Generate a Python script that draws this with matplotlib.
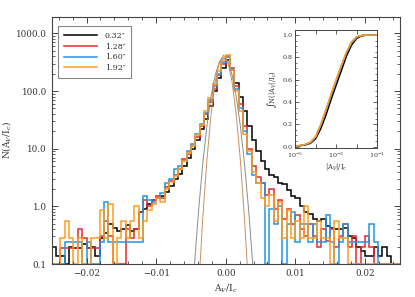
import numpy as np
import matplotlib
matplotlib.use("Agg")
import matplotlib.pyplot as plt
from matplotlib.ticker import MultipleLocator, LogLocator, NullFormatter, FixedLocator

plt.rcParams['font.family'] = ['DejaVu Serif']
plt.rcParams['mathtext.fontset'] = 'dejavuserif'

# histogram bins of A_V/I_c
edges = np.linspace(-0.025, 0.025, 81)

labels = ["0.32\u2033", "1.28\u2033", "1.60\u2033", "1.92\u2033"]
colors = ["#000000", "#e8282c", "#2196e6", "#ff9d1e"]

n_032 = [0.2, 0.14, 0.14, 0.0, 0.2, 0.19, 0.19, 0.22, 0.19, 0.2, 0.14, 0.28,
         0.35, 0.5, 0.42, 0.38, 0.4, 0.47, 0.38, 0.4, 0.8, 0.9, 1.1, 1.3,
         1.4, 1.5, 1.8, 2.3, 3.0, 3.6, 5.0, 7.0, 10, 14, 22, 33,
         55, 100, 170, 250, 350, 230, 140, 80, 45, 25, 14, 9,
         6.0, 4.5, 3.5, 3.2, 2.5, 2.4, 1.9, 1.5, 1.4, 1.0, 0.8, 0.75,
         0.6, 0.55, 0.6, 0.45, 0.42, 0.4, 0.4, 0.42, 0.3, 0.28, 0.2, 0.17,
         0.14, 0.14, 0.2, 0.14, 0.2, 0.14, 0.0, 0.0]
n_128 = [0.0, 0.0, 0.19, 0.19, 0.19, 0.19, 0.4, 0.28, 0.19, 0.19, 0.19, 0.3,
         0.55, 0.3, 0.0, 0.0, 0.1, 0.4, 0.28, 0.4, 0.8, 1.3, 1.0, 1.3,
         1.5, 1.4, 2.2, 2.8, 3.5, 4.5, 6.5, 8.0, 11, 16, 25, 40,
         65, 110, 190, 300, 400, 250, 120, 60, 25, 10, 5.0, 3.2,
         2.5, 1.6, 2.0, 0.9, 1.3, 0.6, 0.9, 0.5, 0.7, 0.4, 0.3, 0.5,
         0.3, 0.2, 0.4, 0.25, 0.4, 0.2, 0.3, 0.5, 0.2, 0.3, 0.1, 0.2,
         0.3, 0.2, 0.1, 0.0, 0.0, 0.0, 0.0, 0.0]
n_160 = [0.0, 0.0, 0.0, 0.24, 0.24, 0.24, 0.24, 0.0, 0.24, 0.0, 0.0, 0.24,
         1.2, 0.24, 0.24, 0.24, 0.24, 0.24, 0.24, 0.24, 0.24, 1.5, 1.3, 1.2,
         1.4, 1.7, 2.5, 3.0, 4.5, 5.0, 6.0, 9.0, 12, 18, 27, 42,
         70, 120, 200, 320, 390, 240, 110, 50, 20, 8.0, 3.5, 2.5,
         2.5, 0.0, 0.9, 0.5, 1.0, 0.0, 0.5, 0.8, 0.24, 0.5, 0.5, 0.24,
         0.5, 0.24, 0.24, 0.7, 0.24, 0.0, 0.24, 0.5, 0.24, 0.24, 0.24, 0.24,
         0.24, 0.5, 0.24, 0.0, 0.0, 0.0, 0.0, 0.0]
n_192 = [0.0, 0.0, 0.28, 0.55, 0.28, 0.0, 0.28, 0.0, 0.0, 0.28, 0.28, 0.85,
         0.28, 1.1, 0.0, 0.28, 0.55, 0.28, 0.55, 1.0, 0.28, 0.55, 0.85, 1.1,
         1.4, 1.2, 2.0, 2.6, 3.3, 4.5, 6.0, 8.5, 11, 17, 26, 45,
         75, 130, 220, 350, 430, 230, 100, 45, 18, 9.0, 4.0, 2.5,
         1.4, 1.0, 1.6, 0.55, 1.2, 0.28, 0.85, 0.28, 0.55, 0.28, 1.0, 0.28,
         0.28, 0.55, 0.28, 0.28, 0.0, 0.55, 0.28, 0.28, 0.0, 0.0, 0.0, 0.0,
         0.0, 0.0, 0.0, 0.0, 0.0, 0.0, 0.0, 0.0]

# thin gaussian fit curves
gx_wide = [-0.0045, -0.0039, -0.0033, -0.0027, -0.0021, -0.0015, -0.0009, -0.0003,
           0.0003, 0.0009, 0.0015, 0.0021, 0.0027, 0.0033, 0.0039]
gy_wide = [0.093, 0.84, 5.5, 25, 82, 193, 321, 380, 321, 193, 82, 25, 5.5, 0.84, 0.093]
gx_narrow = [-0.0039, -0.0033, -0.0027, -0.0021, -0.0015, -0.0009, -0.0003,
             0.0003, 0.0009, 0.0015, 0.0021, 0.0027, 0.0033]
gy_narrow = [0.035, 0.61, 6.4, 40, 148, 323, 420, 323, 148, 40, 6.4, 0.61, 0.035]

# cumulative distributions for the inset
cdf_logx = [-5, -4.5, -4.25, -4, -3.75, -3.5, -3.25, -3, -2.75, -2.5, -2.25, -2, -1.75, -1.5, -1]
cdf_032 = [0.0, 0.015, 0.03, 0.07, 0.16, 0.28, 0.42, 0.55, 0.68, 0.81, 0.91, 0.97, 0.993, 0.999, 1.0]
cdf_128 = [0.0, 0.018, 0.037, 0.085, 0.19, 0.32, 0.46, 0.59, 0.72, 0.84, 0.93, 0.98, 0.996, 1.0, 1.0]
cdf_160 = [0.0, 0.018, 0.037, 0.085, 0.19, 0.32, 0.46, 0.59, 0.72, 0.84, 0.93, 0.98, 0.996, 1.0, 1.0]
cdf_192 = [0.0, 0.02, 0.04, 0.09, 0.2, 0.33, 0.47, 0.6, 0.73, 0.85, 0.94, 0.985, 0.997, 1.0, 1.0]

series = [n_032, n_128, n_160, n_192]
cdfs = [cdf_032, cdf_128, cdf_160, cdf_192]

axcol = "#444444"
fig = plt.figure(figsize=(4.15, 2.97), dpi=100)
ax = fig.add_axes([0.1246, 0.1111, 0.8386, 0.8327])

ax.plot(gx_wide, gy_wide, color="#8c8c8c", lw=0.7)
ax.plot(gx_narrow, gy_narrow, color="#c89060", lw=0.7)
for vals, c, lab in zip(series, colors, labels):
    ax.stairs(np.maximum(np.array(vals), 0.1), edges, color=c, lw=1.1, label=lab)

ax.set_yscale("log")
ax.set_xlim(-0.025, 0.025)
ax.set_ylim(0.1, 1950)
ax.set_xticks([-0.02, -0.01, 0.0, 0.01, 0.02])
ax.set_xticklabels(["\u22120.02", "\u22120.01", "0.00", "0.01", "0.02"])
ax.xaxis.set_minor_locator(MultipleLocator(0.002))
ax.set_yticks([0.1, 1, 10, 100, 1000])
ax.set_yticklabels(["0.1", "1.0", "10.0", "100.0", "1000.0"])
ax.yaxis.set_minor_locator(LogLocator(base=10, subs=np.arange(2, 10)))
ax.yaxis.set_minor_formatter(NullFormatter())
ax.tick_params(which="both", direction="in", top=True, right=True,
               colors=axcol, labelsize=6.3, labelcolor="#333333")
ax.tick_params(which="major", length=4, width=0.7)
ax.tick_params(which="minor", length=2, width=0.6)
for s in ax.spines.values():
    s.set_color(axcol)
    s.set_linewidth(0.8)
ax.set_xlabel(r"A$_V$/I$_c$", fontsize=6.5, color="#333333", labelpad=3)
ax.set_ylabel(r"N(A$_V$/I$_c$)", fontsize=6.5, color="#333333")
ax.yaxis.set_label_coords(-0.112, 0.5)

leg = ax.legend(loc="upper left", bbox_to_anchor=(0.018, 0.962), borderaxespad=0,
                fontsize=5.8, handlelength=4.2, handletextpad=0.9, labelspacing=0.35,
                fancybox=False, framealpha=1, borderpad=0.7)
leg.get_frame().set_edgecolor("#888888")
leg.get_frame().set_linewidth(0.8)
for t in leg.get_texts():
    t.set_color("#333333")

# inset
axi = fig.add_axes([0.711, 0.502, 0.198, 0.397])
for cd, c in zip(cdfs, colors):
    axi.plot(10.0 ** np.array(cdf_logx), cd, color=c, lw=1.1)
axi.set_xscale("log")
axi.set_xlim(1e-5, 1e-1)
axi.set_ylim(-0.012, 1.045)
axi.xaxis.set_major_locator(FixedLocator([1e-5, 1e-4, 1e-3, 1e-2, 1e-1]))
axi.set_xticklabels([r"10$^{-5}$", "", r"10$^{-3}$", "", r"10$^{-1}$"])
axi.xaxis.set_minor_locator(FixedLocator([]))
axi.yaxis.set_major_locator(MultipleLocator(0.2))
axi.yaxis.set_minor_locator(MultipleLocator(0.05))
axi.set_yticklabels(["", "0.0", "0.2", "0.4", "0.6", "0.8", "1.0"])
axi.tick_params(which="both", direction="in", top=True, right=True,
                colors=axcol, labelsize=4.6, labelcolor="#333333", pad=2)
axi.tick_params(which="major", length=3, width=0.6)
axi.tick_params(which="minor", length=1.5, width=0.5)
for s in axi.spines.values():
    s.set_color(axcol)
    s.set_linewidth(0.7)
axi.set_xlabel(r"|A$_V$|/I$_c$", fontsize=4.8, color="#333333", labelpad=1)
axi.set_ylabel(r"$\int$N(|A$_V$|/I$_c$)", fontsize=4.8, color="#333333", labelpad=2)

fig.savefig("out.png", dpi=100)
